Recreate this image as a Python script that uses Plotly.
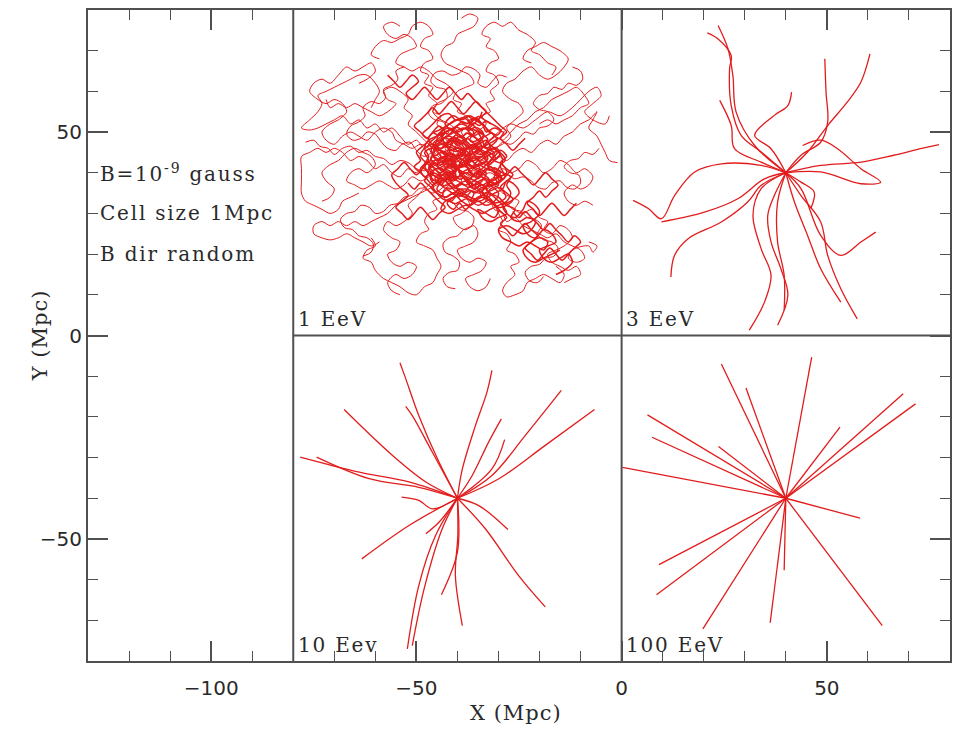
import plotly.graph_objects as go

# ---------------- data ----------------
x_range = [-130, 80]
y_range = [-80, 80]
x_tickvals = [-100, -50, 0, 50]
y_tickvals = [-50, 0, 50]
x_title = "X (Mpc)"
y_title = "Y (Mpc)"

panel_labels = ["1 EeV", "3 EeV", "10 Eev", "100 EeV"]
panel_label_x = [-79.3, 0.7, -79.3, 0.7]
panel_label_y = [0.5, 0.5, -79.5, -79.5]

info_lines = ["B=10<sup>-9</sup> gauss", "Cell size 1Mpc", "B dir random"]
info_y = [40, 30, 20]
info_x = -127.5

divider_x = [-80, 0]
divider_y = [0]

# 100 EeV: straight trajectories from the source
src_100 = (40, -40)
end_x_100 = [24.3, 30.3, 46.3, 6.3, 7.4, 23.6, 0.2, 68.6, 71.6, 53.2, 58.1, 9.1, 8.5, 19.8, 36.2, 39.6, 63.5]
end_y_100 = [-7.0, -12.9, -5.3, -19.5, -25.0, -27.3, -32.4, -14.3, -16.8, -22.5, -44.9, -56.3, -63.7, -72.1, -70.6, -57.7, -71.3]

# 10 EeV: slightly bent trajectories
paths_10 = [
    [(-40, -40), (-44.5, -31.1), (-49.4, -19.7), (-52.6, -10.6), (-54.0, -6.7)],
    [(-40, -40), (-46.1, -28.7), (-51.0, -19.7), (-52.6, -17.4)],
    [(-40, -40), (-38.8, -32.8), (-35.6, -22.1), (-32.8, -13.9), (-31.6, -8.6)],
    [(-40, -40), (-36.4, -34.4), (-32.4, -26.2), (-29.3, -20.5)],
    [(-40, -40), (-31.6, -32.8), (-28.5, -25.6)],
    [(-40, -40), (-31.6, -34.4), (-23.5, -24.6), (-14.7, -13.5)],
    [(-40, -40), (-29.9, -35.2), (-18.6, -27.0), (-6.6, -18.2)],
    [(-40, -40), (-51.8, -36.0), (-63.9, -33.6), (-78.3, -29.9)],
    [(-40, -40), (-49.4, -37.3), (-61.5, -35.2), (-74.3, -29.9)],
    [(-40, -40), (-47.7, -36.0), (-55.8, -29.5), (-67.6, -18.2)],
    [(-40, -40), (-46.1, -42.6), (-49.4, -40.5), (-53.6, -39.7)],
    [(-40, -40), (-51.8, -46.7), (-63.3, -54.9)],
    [(-40, -40), (-45.3, -49.1), (-49.4, -61.4), (-52.2, -77.0)],
    [(-40, -40), (-43.7, -47.5), (-48.1, -62.2), (-51.0, -76.2)],
    [(-40, -40), (-44.5, -45.9), (-47.7, -48.7)],
    [(-40, -40), (-39.9, -49.1), (-40.5, -59.0), (-38.8, -71.3)],
    [(-40, -40), (-40.0, -53.2), (-43.9, -63.7)],
    [(-40, -40), (-33.2, -47.5), (-25.1, -59.0), (-18.6, -66.7)],
    [(-40, -40), (-34.8, -41.8), (-27.7, -47.7)],
]

# 3 EeV: curved trajectories
paths_3 = [
    [(40, 40), (34.0, 45.1), (29.1, 49.2), (26.7, 56.5), (26.3, 65.6), (26.7, 68.8), (23.5, 72.9), (20.9, 74.4)],
    [(40, 40), (32.4, 46.7), (27.9, 54.9), (27.1, 63.9), (25.9, 70.5), (23.5, 76.2)],
    [(40, 40), (36.4, 45.9), (32.4, 49.2), (37.2, 54.1), (40.5, 56.5), (41.4, 59.8)],
    [(40, 40), (34.0, 42.6), (27.5, 45.9), (26.7, 51.6), (23.9, 57.8)],
    [(40, 40), (43.7, 44.3), (48.5, 47.5), (50.2, 52.5), (49.8, 59.8), (49.5, 68.0)],
    [(40, 40), (45.3, 45.1), (50.2, 51.6), (55.0, 57.4), (58.3, 62.3), (60.5, 69.2)],
    [(40, 40), (48.5, 41.8), (58.3, 42.6), (66.3, 44.3), (72.8, 45.9), (77.3, 46.9)],
    [(44.1, 46.7), (48.5, 48.0), (52.6, 45.9), (58.3, 41.0), (63.1, 37.7), (58.3, 37.3), (48.5, 40.2), (40, 40)],
    [(40, 40), (34.0, 41.8), (24.3, 42.2), (17.8, 40.2), (12.9, 34.4), (9.7, 28.7), (6.5, 31.2), (2.8, 33.2)],
    [(40, 40), (34.8, 38.5), (28.3, 33.6), (20.2, 30.3), (9.7, 27.9)],
    [(40, 40), (34.0, 36.9), (30.7, 32.8), (24.3, 27.9), (16.2, 23.8), (12.9, 19.7), (12.0, 14.4)],
    [(40, 40), (34.0, 36.1), (32.0, 29.5), (34.0, 21.3), (36.4, 14.8), (34.8, 8.2), (31.1, 1.3)],
    [(40, 40), (38.0, 32.8), (38.0, 23.0), (39.6, 14.8), (39.6, 6.2)],
    [(40, 40), (37.2, 34.4), (35.6, 29.5), (36.4, 23.0), (38.8, 16.4), (40.5, 9.9), (38.0, 2.5)],
    [(40, 40), (42.1, 32.8), (45.3, 24.6), (48.5, 16.4), (53.4, 8.2)],
    [(40, 40), (43.7, 34.4), (48.5, 27.9), (50.2, 19.7), (53.4, 11.5), (57.4, 4.1)],
    [(40, 40), (43.7, 36.1), (48.5, 24.6), (53.4, 19.7), (58.3, 23.0), (61.9, 25.4)],
    [(40, 40), (43.7, 37.7), (46.9, 35.3), (46.1, 31.2)],
]

# 1 EeV: random-walk trajectories (outer excursions)
paths_1_outer = [
    [(-40, 41), (-41, 43), (-43, 44), (-42, 46), (-44, 48), (-43, 50), (-45, 52), (-44, 54), (-46, 55), (-45, 57),
     (-47, 59), (-46, 61), (-48, 62), (-47, 64), (-49, 65), (-48, 67), (-46, 68), (-47, 70), (-49, 71), (-48, 73),
     (-46, 74), (-47, 76), (-49, 77), (-51, 76), (-52, 74), (-54, 73), (-56, 72), (-58, 72.5), (-60, 71), (-61, 69), (-59, 68)],
    [(-40, 41), (-38, 42), (-37, 44), (-35, 45), (-36, 47), (-34, 48), (-35, 50), (-33, 52), (-34, 54), (-32, 55),
     (-33, 57), (-31, 58), (-32, 60), (-30, 62), (-31, 64), (-33, 65), (-32, 67), (-30, 68), (-31, 70), (-33, 71),
     (-32, 73), (-34, 74), (-33, 76), (-31, 77), (-29, 76), (-27, 77), (-25, 75), (-23, 74), (-21, 72), (-22, 70),
     (-20, 69), (-18, 67), (-16, 66), (-17, 64)],
    [(-40, 41), (-38, 40), (-36, 41), (-34, 43), (-32, 42), (-30, 44), (-28, 43), (-26, 45), (-24, 46), (-22, 45),
     (-20, 47), (-18, 48), (-16, 47), (-14, 49), (-12, 50), (-10, 52), (-8, 53), (-6, 55), (-7, 53), (-8, 51),
     (-6, 49), (-5, 47), (-4, 45), (-3, 43), (-1, 42.5)],
    [(-40, 41), (-39, 43), (-37, 44), (-35, 46), (-33, 47), (-31, 49), (-29, 48), (-27, 50), (-25, 52), (-23, 53),
     (-21, 55), (-19, 56), (-17, 58), (-15, 59), (-13, 60), (-11, 61), (-9, 59), (-8, 57), (-10, 56), (-12, 54),
     (-14, 53), (-16, 52), (-18, 53), (-20, 52)],
    [(-40, 41), (-38, 39), (-37, 37), (-35, 36), (-34, 34), (-32, 33), (-31, 31), (-29, 30), (-28, 28), (-26, 29),
     (-24, 27), (-22, 26), (-20, 25), (-18, 24), (-16, 25), (-14, 23), (-12, 22), (-10, 21), (-9, 19), (-11, 18),
     (-13, 19), (-12, 21), (-8, 22), (-7, 20.5), (-6, 22), (-8, 23)],
    [(-40, 41), (-39, 39), (-37, 38), (-36, 36), (-34, 35), (-33, 33), (-31, 32), (-30, 30), (-29, 28), (-30, 26),
     (-28, 25), (-27, 23), (-28, 21), (-26, 20), (-25, 18), (-27, 17), (-26, 15), (-28, 13), (-29, 11), (-28, 9.5),
     (-26, 10), (-24, 11), (-23, 13), (-21, 14), (-19, 15), (-17, 14), (-15, 13), (-14, 15), (-16, 17)],
    [(-40, 41), (-42, 39), (-41, 37), (-43, 36), (-44, 34), (-46, 33), (-45, 31), (-47, 30), (-48, 28), (-47, 26),
     (-49, 25), (-50, 23), (-48, 22), (-46, 21), (-45, 19), (-44, 17), (-45, 15), (-46, 13), (-48, 12), (-50, 10),
     (-52, 10.5), (-54, 12), (-56, 13), (-58, 14), (-60, 16), (-61, 18), (-63, 19), (-62, 21), (-60, 22), (-61, 24)],
    [(-40, 41), (-42, 42), (-44, 41), (-46, 43), (-48, 42), (-50, 40), (-52, 41), (-54, 39), (-56, 40), (-58, 42),
     (-60, 41), (-62, 43), (-64, 44), (-66, 43), (-68, 45), (-70, 46), (-72, 45), (-74, 46), (-76, 45), (-78, 44),
     (-78, 41), (-78, 38), (-78, 35), (-77, 33), (-75, 32), (-73, 31), (-71, 30), (-69, 31), (-68, 33), (-66, 34), (-64, 35)],
    [(-40, 41), (-42, 44), (-44, 45), (-46, 47), (-48, 46), (-50, 48), (-52, 47), (-54, 49), (-56, 51), (-58, 50),
     (-60, 52), (-62, 51), (-64, 53), (-66, 52), (-68, 54), (-70, 53), (-72, 52), (-74, 51), (-76, 50.5), (-78, 51),
     (-76, 53), (-74, 55), (-73, 57), (-74, 59), (-72, 60), (-70, 61), (-68, 62), (-66, 63), (-64, 64), (-62, 64),
     (-60, 62), (-59, 60), (-60, 58), (-61, 56)],
    [(-40, 41), (-41, 39), (-43, 38), (-45, 37), (-47, 36), (-49, 35), (-51, 34), (-53, 33), (-55, 32), (-57, 30),
     (-59, 29), (-61, 28), (-63, 27), (-65, 28), (-67, 27), (-69, 28), (-71, 27), (-73, 28), (-75, 27), (-75, 25),
     (-73, 24), (-71, 23.5), (-69, 24), (-67, 25), (-65, 24), (-63, 23), (-61, 22), (-59, 23)],
    [(-40, 41), (-39, 43), (-41, 45), (-40, 47), (-38, 48), (-39, 50), (-37, 52), (-38, 54), (-40, 55), (-39, 57),
     (-41, 58), (-40, 60), (-38, 61), (-36, 62), (-37, 64), (-39, 65), (-41, 66), (-43, 67), (-44, 69), (-43, 71),
     (-41, 72), (-40, 74), (-38, 75), (-36, 76), (-35, 78), (-37, 79), (-39, 78)],
    [(-40, 41), (-42, 43), (-44, 44), (-46, 46), (-48, 48), (-50, 50), (-52, 52), (-51, 54), (-53, 56), (-52, 58),
     (-54, 60), (-56, 61), (-58, 60), (-57, 58), (-55, 57), (-57, 55), (-59, 54), (-61, 55), (-63, 56), (-65, 57),
     (-67, 56), (-69, 57), (-71, 56), (-72, 58)],
    [(-40, 41), (-42, 43), (-44, 42), (-46, 44), (-47, 46), (-49, 47), (-51, 46), (-53, 47), (-55, 48), (-56, 50),
     (-58, 51), (-60, 50), (-62, 48), (-64, 49), (-66, 50), (-68, 49), (-70, 47), (-72, 48), (-73, 50), (-71, 52),
     (-69, 53), (-67, 55), (-68, 57), (-70, 58), (-72, 57), (-74, 58), (-76, 60), (-75, 62), (-73, 63), (-71, 62),
     (-69, 64), (-67, 66), (-65, 65), (-63, 66), (-61, 67), (-60, 65), (-62, 63), (-64, 62)],
    [(-40, 41), (-41, 44), (-43, 46), (-42, 48), (-40, 50), (-42, 52), (-44, 53), (-46, 55), (-45, 57), (-43, 58),
     (-41, 60), (-43, 62), (-45, 63), (-47, 65), (-49, 66), (-51, 65), (-53, 66), (-55, 67), (-54, 69), (-52, 70),
     (-50, 71), (-51, 73), (-53, 74), (-55, 73), (-57, 74), (-58, 76), (-56, 77), (-54, 76)],
    [(-40, 41), (-37, 43), (-35, 45), (-33, 44), (-31, 46), (-29, 47), (-27, 49), (-28, 51), (-26, 53), (-24, 55),
     (-25, 57), (-27, 58), (-29, 60), (-28, 62), (-26, 63), (-24, 65), (-22, 66), (-20, 64), (-18, 63), (-16, 64),
     (-14, 66), (-13, 68), (-15, 70), (-17, 71), (-19, 72), (-21, 71), (-23, 70), (-24, 68), (-22, 67)],
    [(-40, 41), (-37, 42), (-35, 40), (-33, 38), (-31, 39), (-29, 41), (-27, 40), (-25, 41), (-23, 43), (-21, 42),
     (-19, 40), (-17, 41), (-15, 43), (-13, 42), (-11, 40), (-9, 41), (-7, 39), (-8, 37), (-10, 36), (-12, 37),
     (-14, 35), (-13, 33), (-11, 32), (-9, 33), (-7, 32)],
    [(-40, 41), (-42, 38), (-44, 36), (-46, 35), (-48, 36), (-50, 34), (-52, 32), (-51, 30), (-53, 28), (-55, 27),
     (-57, 28), (-58, 26), (-56, 24), (-54, 23), (-55, 21), (-57, 20), (-56, 18), (-54, 17), (-52, 18), (-50, 17),
     (-51, 15), (-53, 14), (-55, 15), (-57, 13), (-56, 11), (-54, 10)],
    [(-40, 41), (-39, 38), (-40, 36), (-38, 34), (-37, 32), (-39, 30), (-41, 29), (-40, 27), (-38, 26), (-36, 27),
     (-35, 25), (-36, 23), (-38, 22), (-40, 21), (-39, 19), (-37, 18), (-35, 19), (-33, 18), (-34, 16), (-36, 15),
     (-38, 14), (-37, 12), (-35, 11), (-33, 12), (-32, 14)],
    [(-40, 41), (-43, 40), (-45, 41), (-47, 39), (-49, 38), (-51, 39), (-53, 37), (-55, 36), (-57, 37), (-59, 38),
     (-61, 37), (-63, 36), (-65, 37), (-67, 38), (-66, 40), (-64, 41), (-62, 40), (-60, 42), (-61, 44), (-63, 45),
     (-65, 46), (-67, 45), (-69, 43), (-71, 42), (-73, 40), (-72, 38), (-70, 36), (-71, 34), (-73, 33)],
    [(-40, 41), (-36, 44), (-33, 47), (-30, 50), (-27, 52), (-24, 51), (-21, 53), (-18, 55), (-15, 54), (-12, 56),
     (-10, 58), (-8, 60), (-6, 61), (-5, 59), (-7, 57), (-9, 55), (-7, 53), (-4, 52), (-3, 54)],
    [(-40, 41), (-37, 39), (-35, 37), (-33, 36), (-31, 37), (-29, 35), (-27, 34), (-25, 33), (-26, 31), (-24, 30),
     (-22, 31), (-20, 29), (-18, 28), (-19, 26), (-17, 25), (-15, 27), (-13, 26), (-12, 24), (-14, 22), (-16, 21),
     (-18, 20), (-17, 18), (-15, 17), (-13, 16), (-11, 17), (-10, 15), (-12, 14), (-14, 13)],
]

# 1 EeV: looping trajectories forming the mesh around the source
paths_1_mesh = [
    [(-40, 41), (-42, 43), (-44, 43.5), (-46, 45), (-48, 44), (-50, 45.5), (-51.5, 47.5), (-53.5, 47), (-55, 45.5),
     (-57, 46), (-58.5, 47.5), (-60, 49.5), (-62, 50), (-63.5, 48.5), (-65.5, 48), (-67, 49.5), (-66, 51.5), (-64, 52.5),
     (-62.5, 54), (-63, 56), (-61, 57.5), (-59, 57), (-57.5, 58.5), (-58, 60.5), (-56, 61.5), (-54.5, 63), (-55, 65), (-53, 66)],
    [(-40, 41), (-41, 43), (-40, 45), (-41.5, 47), (-43, 48.5), (-42, 50.5), (-43.5, 52.5), (-45.5, 53), (-47, 54.5),
     (-46, 56.5), (-44, 57), (-42.5, 58.5), (-43, 60.5), (-45, 61), (-46.5, 62.5), (-45.5, 64.5), (-43.5, 65), (-41.5, 64),
     (-39.5, 64.5), (-38, 66), (-36, 65.5), (-34.5, 64), (-35, 62), (-33, 61), (-31.5, 62.5), (-30, 64), (-28, 63.5)],
    [(-40, 41), (-38, 42), (-36, 43.5), (-34, 44), (-32.5, 45.5), (-30.5, 46), (-29, 47.5), (-27, 47), (-25, 48.5),
     (-23.5, 50), (-21.5, 49.5), (-20, 51), (-18, 51.5), (-16.5, 53), (-18, 55), (-20, 55.5), (-21.5, 57), (-20, 59),
     (-18, 59.5), (-16.5, 61), (-14.5, 60.5), (-13, 62), (-11, 61.5), (-9.5, 63), (-10, 65), (-12, 66)],
    [(-40, 41), (-38, 40), (-36, 40.5), (-34, 39.5), (-32, 40), (-30, 39), (-28, 39.5), (-26, 38.5), (-24, 39), (-22, 38),
     (-20.5, 36.5), (-18.5, 36), (-17, 37.5), (-15, 38), (-13.5, 36.5), (-11.5, 36), (-10, 37.5), (-10.5, 39.5),
     (-12.5, 40), (-14, 41.5), (-12.5, 43), (-10.5, 43.5), (-9, 45), (-7, 44.5), (-5.5, 46)],
    [(-40, 41), (-38.5, 39), (-37, 37.5), (-35, 36.5), (-33.5, 35), (-31.5, 34.5), (-30, 33), (-28, 32.5), (-26.5, 31),
     (-24.5, 30.5), (-23, 29), (-21, 28.5), (-19.5, 27), (-20.5, 25), (-19, 23.5), (-17, 23), (-15.5, 21.5), (-16.5, 19.5),
     (-18.5, 19), (-20, 17.5), (-22, 17), (-23.5, 15.5), (-22.5, 13.5), (-20.5, 13), (-19, 14.5)],
    [(-40, 41), (-41.5, 39), (-42, 37), (-43.5, 35.5), (-43, 33.5), (-41, 32.5), (-39.5, 31), (-37.5, 30.5), (-36, 29),
     (-36.5, 27), (-38.5, 26), (-40, 24.5), (-42, 24), (-43.5, 22.5), (-43, 20.5), (-41, 19.5), (-39.5, 18), (-40, 16),
     (-42, 15.5), (-43.5, 14), (-42.5, 12), (-40.5, 11.5)],
    [(-40, 41), (-42, 40), (-44, 38.5), (-46, 38), (-47.5, 36.5), (-49.5, 36), (-51, 34.5), (-53, 34), (-54.5, 32.5),
     (-56.5, 32), (-58, 30.5), (-60, 30), (-61.5, 31.5), (-63.5, 32), (-65, 30.5), (-67, 30), (-68.5, 28.5), (-67.5, 26.5),
     (-65.5, 26), (-64, 24.5), (-62, 24), (-60.5, 22.5), (-61, 20.5), (-63, 19.5)],
    [(-40, 41), (-42, 42), (-44, 42.5), (-46, 41.5), (-48, 40.5), (-50, 41), (-52, 42.5), (-54, 43), (-56, 42), (-58, 43.5),
     (-60, 44), (-62, 45.5), (-64, 45), (-66, 46.5), (-68, 46), (-70, 44.5), (-71.5, 46), (-73.5, 46.5), (-75, 48), (-77, 47.5)],
]

# 1 EeV: tightly wound trajectories forming the dense core
paths_1_core = [
    [(-40, 41), (-42, 42), (-43, 44), (-45, 43), (-46, 45), (-44, 47), (-42, 46), (-41, 48), (-39, 47), (-37, 49),
     (-35, 48), (-34, 46), (-36, 45), (-38, 44), (-37, 42), (-35, 41), (-33, 40), (-34, 38), (-36, 37), (-38, 38),
     (-40, 37), (-42, 36), (-44, 37), (-45, 39), (-47, 40), (-46, 42), (-44, 41), (-42, 40), (-40, 39), (-38, 40),
     (-36, 39), (-34, 41), (-32, 43), (-31, 45), (-33, 46), (-35, 50), (-37, 51), (-39, 52), (-41, 51), (-43, 50),
     (-45, 49), (-47, 48), (-48, 46), (-47, 44), (-48, 42), (-46, 38)],
    [(-40, 41), (-38, 43), (-36, 43), (-34, 44), (-32, 46), (-30, 45), (-29, 43), (-30, 41), (-31, 39), (-30, 37),
     (-32, 36), (-33, 34), (-35, 33), (-37, 34), (-39, 35), (-41, 34), (-43, 33), (-44, 31), (-42, 30), (-40, 31),
     (-38, 32), (-36, 31), (-34, 30), (-32, 31), (-30, 32), (-28, 33), (-27, 35), (-28, 37), (-27, 39), (-29, 40),
     (-31, 41), (-33, 42), (-35, 43), (-37, 46), (-39, 45), (-41, 46), (-43, 47), (-44, 50), (-42, 52), (-40, 53),
     (-38, 52), (-36, 53), (-34, 52), (-33, 50), (-31, 51), (-29, 50)],
    [(-40, 41), (-38, 38), (-36, 36), (-34, 37), (-32, 35), (-30, 34), (-28, 32), (-26, 31), (-27, 29), (-25, 28),
     (-23, 29), (-21, 28), (-22, 26), (-24, 25), (-26, 26), (-28, 27), (-30, 26), (-29, 24), (-27, 23), (-25, 22),
     (-23, 23), (-21, 22), (-19, 21), (-18, 23), (-20, 24), (-22, 23), (-24, 21), (-23, 19), (-21, 18), (-19, 19),
     (-17, 20), (-15, 21)],
    [(-40, 41), (-41, 43), (-39, 44), (-37, 45), (-38, 47), (-40, 48), (-42, 49), (-44, 48), (-45, 46), (-43, 45),
     (-41, 44), (-43, 42), (-45, 41), (-47, 42), (-49, 44), (-48, 46), (-46, 47), (-44, 46), (-42, 47), (-40, 46),
     (-38, 46), (-36, 47), (-34, 45), (-33, 43), (-35, 42), (-37, 41), (-39, 42), (-41, 40), (-43, 39), (-42, 37),
     (-40, 36), (-38, 36), (-36, 35), (-37, 33)],
    [(-40, 41), (-38, 42), (-37, 40), (-35, 39), (-33, 41), (-31, 40), (-30, 38), (-32, 37), (-34, 36), (-33, 34),
     (-31, 35), (-29, 36), (-28, 38), (-26, 37), (-25, 35), (-27, 33), (-29, 32), (-28, 30), (-26, 29), (-24, 31),
     (-23, 33), (-21, 32), (-20, 30), (-22, 28), (-24, 27), (-23, 25), (-21, 24), (-19, 26), (-17, 25), (-16, 23),
     (-18, 22), (-20, 21), (-19, 19), (-17, 18), (-15, 19), (-13, 20), (-12, 18), (-14, 16), (-16, 15)],
    [(-40, 41), (-41, 42), (-43, 43), (-42, 45), (-40, 44), (-38, 45), (-39, 47), (-41, 48), (-43, 47), (-45, 48),
     (-44, 50), (-42, 51), (-40, 50), (-38, 51), (-36, 50), (-37, 48), (-35, 47), (-33, 48), (-32, 46), (-34, 44),
     (-36, 44), (-38, 43), (-36, 41), (-34, 40), (-36, 38), (-38, 37), (-40, 38), (-42, 39), (-44, 38), (-46, 37),
     (-45, 35), (-43, 34), (-41, 35), (-39, 33), (-37, 32), (-35, 33), (-33, 32), (-31, 33), (-30, 35), (-32, 37),
     (-34, 39), (-36, 40)],
    [(-40, 41), (-39, 40), (-41, 38), (-43, 40), (-45, 42), (-44, 44), (-46, 46), (-48, 45), (-47, 43), (-49, 41),
     (-48, 39), (-46, 40), (-44, 39), (-42, 37), (-40, 35), (-38, 34), (-36, 33), (-34, 34), (-32, 33), (-30, 31),
     (-31, 29), (-33, 30), (-35, 31), (-34, 29), (-32, 28), (-30, 29), (-28, 30), (-29, 32), (-31, 34), (-33, 36),
     (-32, 38), (-30, 39), (-28, 40), (-29, 42), (-31, 43), (-33, 45), (-35, 46), (-37, 47), (-39, 49), (-41, 50),
     (-43, 52), (-41, 54), (-39, 53), (-37, 54), (-35, 53), (-34, 55)],
    [(-40, 41), (-42, 41.5), (-43.5, 43), (-45, 42), (-46.5, 43.5), (-45.5, 45.5), (-47, 47), (-45.5, 48.5), (-44, 50),
     (-42, 49.5), (-40.5, 51), (-39, 52.5), (-37, 52), (-35.5, 53.5), (-34, 52), (-32.5, 50.5), (-31, 49), (-32.5, 47.5),
     (-31, 46), (-29.5, 44.5), (-31, 43), (-32.5, 41.5), (-31, 40), (-29.5, 38.5), (-31, 37), (-33, 36.5), (-34.5, 35),
     (-36.5, 35.5), (-38, 34), (-40, 34.5), (-41.5, 33), (-43.5, 33.5), (-45, 35), (-46.5, 36.5), (-48, 38), (-47, 40),
     (-48.5, 41.5), (-47, 43)],
    [(-40, 41), (-39, 39.5), (-37.5, 38), (-36, 39.5), (-34.5, 41), (-36, 42.5), (-37.5, 44), (-39, 45.5), (-40.5, 44),
     (-42, 45.5), (-41, 47.5), (-39.5, 49), (-38, 47.5), (-36.5, 46), (-35, 47.5), (-33.5, 49), (-35, 50.5), (-36.5, 52),
     (-38.5, 53.5), (-40.5, 53), (-42, 54.5), (-44, 54), (-45.5, 52.5), (-47, 51), (-48.5, 49.5), (-47, 48), (-48.5, 46.5),
     (-50, 45), (-49, 43), (-50.5, 41.5), (-49, 40), (-47.5, 38.5), (-46, 37), (-44.5, 38.5), (-43, 40), (-41.5, 38.5)],
    [(-40, 41), (-38.5, 42.5), (-37, 41), (-35.5, 42.5), (-34, 44), (-32.5, 42.5), (-31, 44), (-29.5, 45.5), (-28, 44),
     (-29.5, 42.5), (-28, 41), (-26.5, 39.5), (-28, 38), (-29.5, 36.5), (-28, 35), (-26.5, 33.5), (-28, 32), (-30, 31.5),
     (-31.5, 33), (-33, 34.5), (-35, 34), (-36.5, 32.5), (-38, 31), (-39.5, 32.5), (-41, 31), (-42.5, 32.5), (-41, 34),
     (-39.5, 35.5), (-41, 37), (-42.5, 38.5), (-44, 37), (-45.5, 38.5), (-44, 40), (-42.5, 41.5), (-41, 43), (-42.5, 44.5)],
    [(-40, 41), (-41.5, 42.5), (-40, 44), (-38.5, 45.5), (-40, 47), (-41.5, 48.5), (-43, 47), (-44.5, 45.5), (-46, 47),
     (-44.5, 48.5), (-43, 50), (-44.5, 51.5), (-46, 50), (-47.5, 48.5), (-49, 50), (-50.5, 51.5), (-49, 53), (-47.5, 54.5),
     (-46, 56), (-44.5, 54.5), (-43, 56), (-41.5, 57.5), (-40, 56), (-38.5, 54.5), (-37, 56), (-35.5, 57.5), (-34, 56),
     (-32.5, 54.5), (-31, 53), (-29.5, 51.5), (-28, 50), (-29.5, 48.5), (-28, 47), (-26.5, 45.5), (-25, 47), (-23.5, 48.5)],
    [(-40, 41), (-38.5, 39.5), (-37, 38), (-35.5, 36.5), (-34, 35), (-32.5, 33.5), (-31, 32), (-29.5, 30.5), (-28, 29),
     (-29.5, 27.5), (-28, 26), (-26.5, 24.5), (-25, 26), (-23.5, 27.5), (-22, 26), (-20.5, 24.5), (-22, 23), (-23.5, 21.5),
     (-22, 20), (-20.5, 18.5), (-19, 20), (-17.5, 21.5), (-16, 20), (-14.5, 18.5), (-13, 20), (-11.5, 21.5), (-10, 23),
     (-11.5, 24.5), (-13, 23), (-14.5, 24.5), (-16, 26), (-17.5, 27.5), (-19, 26), (-20.5, 27.5), (-22, 29), (-23.5, 30.5),
     (-25, 29), (-26.5, 30.5)],
    [(-40, 41), (-42, 40), (-44, 39.5), (-45.5, 41), (-47, 42.5), (-48.5, 41), (-50, 39.5), (-51.5, 41), (-53, 42.5),
     (-54.5, 41), (-56, 39.5), (-55, 37.5), (-53.5, 36), (-52, 34.5), (-53.5, 33), (-55, 31.5), (-53.5, 30), (-52, 28.5),
     (-50.5, 30), (-49, 31.5), (-47.5, 30), (-46, 28.5), (-44.5, 30), (-43, 31.5), (-44.5, 33), (-46, 34.5), (-47.5, 36),
     (-49, 37.5), (-50.5, 36), (-52, 37.5)],
    [(-40, 41), (-39, 43), (-37.5, 44.5), (-36, 46), (-34.5, 47.5), (-36, 49), (-37.5, 50.5), (-36, 52), (-34.5, 53.5),
     (-33, 55), (-34.5, 56.5), (-36, 58), (-37.5, 59.5), (-39, 58), (-40.5, 59.5), (-42, 61), (-43.5, 59.5), (-45, 58),
     (-46.5, 59.5), (-48, 61), (-49.5, 59.5), (-51, 58), (-52.5, 59.5), (-51, 61), (-49.5, 62.5), (-51, 64), (-52.5, 62.5),
     (-54, 61), (-55.5, 62.5), (-57, 64)],
    [(-40, 41), (-38, 41.5), (-36.5, 40), (-35, 38.5), (-33.5, 40), (-32, 41.5), (-30.5, 40), (-29, 38.5), (-27.5, 40),
     (-26, 41.5), (-24.5, 40), (-23, 38.5), (-21.5, 37), (-20, 38.5), (-18.5, 40), (-17, 38.5), (-15.5, 37), (-17, 35.5),
     (-18.5, 34), (-20, 35.5), (-21.5, 34), (-23, 32.5), (-21.5, 31), (-20, 29.5), (-18.5, 31), (-17, 32.5), (-15.5, 31),
     (-14, 29.5), (-12.5, 31), (-11, 32.5)],
    [(-40, 41), (-41.2, 42), (-42.5, 41.2), (-43.6, 42.4), (-42.8, 43.8), (-44, 45), (-45.3, 44.2), (-46.4, 45.4),
     (-45.6, 46.8), (-44.2, 47.4), (-43, 48.6), (-41.6, 48), (-40.4, 49.2), (-39, 48.6), (-37.8, 49.8), (-36.4, 49),
     (-35.2, 50.2), (-33.8, 49.4), (-32.6, 48.2), (-33.4, 46.8), (-32.2, 45.6), (-30.8, 46.2), (-29.6, 45), (-30.4, 43.6),
     (-31.8, 43), (-32.6, 41.6), (-31.4, 40.4), (-30, 39.8), (-29.2, 38.4), (-30.4, 37.2), (-31.8, 37.8), (-33, 36.6),
     (-34.4, 37.2), (-35.6, 36), (-37, 36.6), (-38.2, 35.4), (-39.6, 36), (-40.8, 34.8)],
    [(-40, 41), (-39.2, 39.8), (-40.4, 38.6), (-41.8, 39.2), (-43, 38), (-44.4, 38.6), (-45.6, 37.4), (-46.6, 38.6),
     (-45.8, 40), (-46.8, 41.4), (-45.6, 42.4), (-44.2, 41.8), (-43, 43), (-41.6, 43.6), (-40.4, 42.6), (-39, 43.4),
     (-37.8, 42.2), (-36.4, 42.8), (-35.2, 41.6), (-33.8, 42.2), (-32.6, 43.4), (-33.4, 44.8), (-34.8, 45.4), (-36, 46.6),
     (-37.4, 46), (-38.6, 47.2), (-40, 46.6), (-41.2, 47.8), (-42.6, 47.2), (-43.8, 48.4), (-43, 49.8), (-41.6, 50.6),
     (-40.2, 51.2), (-38.8, 50.6), (-37.4, 51.4), (-36, 52.2), (-34.6, 51.6), (-33.2, 52.6), (-31.8, 52)],
    [(-40, 41), (-38.8, 40.2), (-37.4, 40.8), (-36.2, 39.6), (-34.8, 40.2), (-33.4, 39.4), (-32.2, 38.2), (-33, 36.8),
     (-34.4, 36.2), (-35.6, 35), (-37, 35.6), (-38.4, 35), (-39.8, 35.6), (-41.2, 35), (-42.6, 35.8), (-43.8, 35),
     (-45, 36), (-44.2, 37.4), (-43, 38.6), (-41.6, 38), (-40.4, 39.2), (-41, 40.6), (-42.4, 41.2), (-43.8, 40.6),
     (-45, 41.8), (-44.2, 43.2), (-42.8, 43.8), (-41.4, 44.6), (-40, 44), (-38.6, 44.8), (-37.2, 44.2), (-35.8, 45),
     (-34.4, 44.4), (-33, 45.2), (-31.6, 44.6), (-30.4, 43.4)],
    [(-40, 41), (-40.8, 42.4), (-39.6, 43.6), (-38.2, 43), (-36.8, 43.8), (-37.6, 45.2), (-39, 45.8), (-40.4, 45.2),
     (-41.8, 45.8), (-43.2, 45.2), (-44.6, 45.8), (-45.4, 47.2), (-44.2, 48.2), (-42.8, 48.8), (-41.4, 49.6), (-40, 50.4),
     (-38.6, 51), (-37.2, 50.4), (-35.8, 51.2), (-34.4, 50.6), (-33.6, 49.2), (-34.8, 48.2), (-36.2, 47.6), (-37.6, 48.4),
     (-39, 47.8), (-40.4, 48.6), (-41.8, 48), (-42.6, 46.6), (-41.4, 45.4), (-40, 46.2), (-38.6, 45.6), (-37.2, 46.4),
     (-35.8, 45.8), (-34.4, 46.6), (-33, 46), (-31.6, 46.8), (-30.4, 48), (-31.2, 49.4), (-32.6, 50.2), (-33.4, 51.6),
     (-34.8, 52.4), (-36.2, 53.2), (-37.6, 52.6)],
    [(-40, 41), (-41.4, 40.2), (-42.8, 40.8), (-44.2, 40), (-45.6, 40.8), (-46.6, 39.6), (-45.8, 38.2), (-44.4, 37.4),
     (-43, 36.8), (-41.6, 37.4), (-40.2, 36.6), (-38.8, 37.2), (-37.4, 36.4), (-36, 37), (-34.6, 38), (-33.2, 38.6),
     (-31.8, 38), (-30.4, 38.6), (-29.6, 40), (-30.8, 41.2), (-32.2, 40.6), (-33.6, 41.4), (-35, 42), (-36.4, 41.4),
     (-37.8, 42), (-39.2, 41.4), (-40.6, 42.2), (-41.8, 43.4), (-43.2, 44), (-44.6, 43.4), (-46, 44), (-46.8, 42.6)],
    [(-40, 41), (-38.6, 41.8), (-37.4, 43), (-36, 43.6), (-34.6, 43), (-33.2, 43.8), (-31.8, 44.6), (-30.4, 45.2),
     (-29, 44.4), (-28.4, 43), (-29.6, 41.8), (-29, 40.4), (-28.4, 39), (-29.6, 37.8), (-31, 37.2), (-32.4, 37.8),
     (-33.8, 37), (-35.2, 37.8), (-36.6, 38.4), (-38, 39), (-39.4, 38.4), (-40.8, 39.2), (-42.2, 38.6), (-43.6, 39.4),
     (-45, 38.8), (-46.2, 39.8), (-47, 41.2), (-46.2, 42.6), (-44.8, 43.2), (-43.4, 42.6), (-42, 43.2), (-40.6, 44),
     (-39.2, 44.6), (-37.8, 44), (-36.4, 44.8), (-35, 45.6), (-33.6, 46.4), (-32.2, 47.2), (-30.8, 48), (-29.4, 48.8),
     (-28.6, 50.2)],
    [(-40, 41), (-39.4, 42.4), (-40.6, 43.6), (-42, 44.2), (-43.4, 45), (-44.8, 46), (-46.2, 47), (-47, 48.4), (-46, 49.8),
     (-44.6, 50.4), (-43.2, 51.2), (-41.8, 52), (-40.4, 52.8), (-39, 53.4), (-37.6, 54), (-36.2, 53.2), (-34.8, 53.8),
     (-33.4, 53), (-32, 52.2), (-30.6, 51.4), (-29.4, 50.4), (-30.4, 49.2), (-31.8, 49.8), (-33.2, 49), (-34.6, 49.8),
     (-36, 49), (-37.4, 49.8), (-38.8, 49), (-40.2, 49.8), (-41.6, 50.6), (-43, 50), (-44.4, 49.2), (-45.8, 49.8)],
    [(-40, 41), (-41, 39.8), (-42.4, 39), (-43.8, 38.2), (-45.2, 37.4), (-46.4, 36.4), (-45.4, 35.2), (-44, 34.4),
     (-42.6, 34), (-41.2, 34.8), (-39.8, 34), (-38.4, 34.8), (-37, 34), (-35.6, 33.6), (-34.2, 34.4), (-32.8, 35.2),
     (-31.4, 35.8), (-30, 36.4), (-28.8, 35.4), (-28.2, 34), (-29.4, 33), (-30.8, 32.6), (-32.2, 33.4), (-33.6, 32.6),
     (-35, 32), (-36.4, 32.8), (-37.8, 33.6), (-39.2, 33), (-40.6, 32.4), (-42, 33.2)],
]

# ---------------- figure ----------------
LINE_COLOR = "rgb(226,28,28)"
AXIS_COLOR = "#505050"
TEXT_COLOR = "#2a2a2a"
SERIF = "DejaVu Serif"


def spaced(text, px=1.8):
    return '<span style="letter-spacing:%spx">%s</span>' % (px, text)


def flatten(paths):
    xs, ys = [], []
    for p in paths:
        for (x, y) in p:
            xs.append(x)
            ys.append(y)
        xs.append(None)
        ys.append(None)
    return xs, ys


fig = go.Figure()

for paths, w in ((paths_1_outer, 1.0), (paths_1_mesh, 1.0), (paths_1_core, 1.5)):
    xs, ys = flatten(paths)
    fig.add_trace(go.Scatter(x=xs, y=ys, mode="lines",
                             line=dict(color=LINE_COLOR, width=w, shape="spline", smoothing=0.9),
                             hoverinfo="skip", showlegend=False))
for paths in (paths_3, paths_10):
    xs, ys = flatten(paths)
    fig.add_trace(go.Scatter(x=xs, y=ys, mode="lines",
                             line=dict(color=LINE_COLOR, width=1.3, shape="spline", smoothing=1.0),
                             hoverinfo="skip", showlegend=False))

x100, y100 = [], []
for ex, ey in zip(end_x_100, end_y_100):
    x100 += [src_100[0], ex, None]
    y100 += [src_100[1], ey, None]
fig.add_trace(go.Scatter(x=x100, y=y100, mode="lines", line=dict(color=LINE_COLOR, width=1.3),
                         hoverinfo="skip", showlegend=False))

shapes = []
for dx in divider_x:
    shapes.append(dict(type="line", xref="x", yref="y", x0=dx, x1=dx, y0=y_range[0], y1=y_range[1],
                       line=dict(color=AXIS_COLOR, width=2)))
for dy in divider_y:
    shapes.append(dict(type="line", xref="x", yref="y", x0=divider_x[0], x1=x_range[1], y0=dy, y1=dy,
                       line=dict(color=AXIS_COLOR, width=2)))

annotations = []
for lab, lx, ly in zip(panel_labels, panel_label_x, panel_label_y):
    annotations.append(dict(x=lx, y=ly, xref="x", yref="y", text=spaced(lab), showarrow=False,
                            xanchor="left", yanchor="bottom",
                            font=dict(family=SERIF, size=20, color=TEXT_COLOR)))
for txt, ty in zip(info_lines, info_y):
    annotations.append(dict(x=info_x, y=ty, xref="x", yref="y", text=spaced(txt), showarrow=False,
                            xanchor="left", yanchor="middle",
                            font=dict(family=SERIF, size=20, color=TEXT_COLOR)))
annotations.append(dict(x=0.497, y=-0.08, xref="paper", yref="paper", text=spaced(x_title, 1),
                        showarrow=False, xanchor="center", yanchor="middle",
                        font=dict(family=SERIF, size=21, color=TEXT_COLOR)))
annotations.append(dict(x=-0.056, y=0.5, xref="paper", yref="paper", text=spaced(y_title, 1),
                        showarrow=False, xanchor="center", yanchor="middle", textangle=-90,
                        font=dict(family=SERIF, size=21, color=TEXT_COLOR)))

axis_common = dict(ticks="inside", ticklen=20, tickwidth=1.5, tickcolor=AXIS_COLOR,
                   showline=True, linecolor=AXIS_COLOR, linewidth=2, mirror="ticks",
                   showgrid=False, zeroline=False, automargin=False,
                   minor=dict(dtick=10, tick0=0, ticks="inside", ticklen=10, tickwidth=1.2,
                              tickcolor=AXIS_COLOR, showgrid=False),
                   tickfont=dict(family="DejaVu Sans", size=20, color=TEXT_COLOR))

fig.update_layout(
    width=960, height=729,
    margin=dict(l=80, r=18, t=2, b=76),
    plot_bgcolor="white", paper_bgcolor="white",
    shapes=shapes, annotations=annotations,
    xaxis=dict(range=x_range, tickvals=x_tickvals, ticklabelstandoff=8, **axis_common),
    yaxis=dict(range=y_range, tickvals=y_tickvals, **axis_common),
)

fig.write_html("out.html")
